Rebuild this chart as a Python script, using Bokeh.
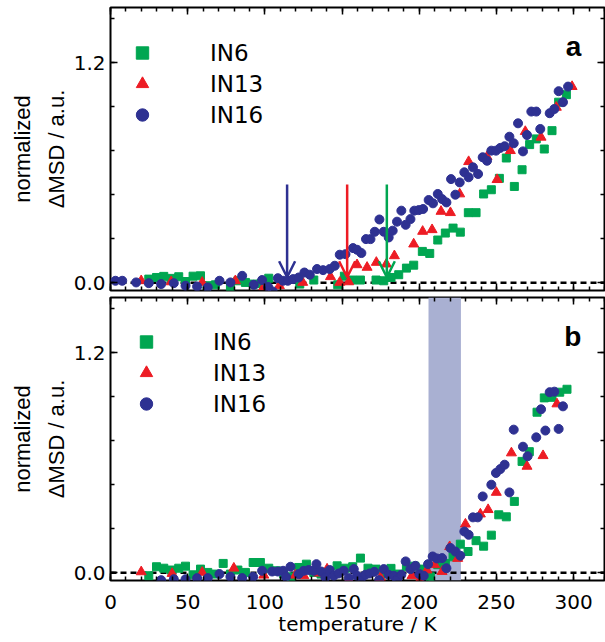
from bokeh.plotting import figure
from bokeh.models import (Range1d, LinearAxis, SingleIntervalTicker, Span, BoxAnnotation,
                          Arrow, OpenHead, Legend, LegendItem, Label, PrintfTickFormatter,
                          CustomJSTickFormatter)
from bokeh.layouts import column
from bokeh.embed import file_html
from bokeh.resources import INLINE

# ---------------- data (temperature / K, normalized dMSD) ----------------
# panel a
a_in6_T = [24.8, 29.8, 34.5, 39.3, 44.2, 48.6, 53.5, 58.3, 62.6, 68.0, 77.7, 82.5, 87.4, 92.8, 97.6,
           102.5, 122.6, 131.7, 147.2, 151.5, 156.9, 161.9, 172.0, 177.0, 181.7, 186.7, 191.7, 196.4,
           202.0, 206.8, 212.0, 216.9, 221.9, 226.6, 231.8, 236.8, 241.7, 246.7, 251.9, 256.4, 261.6,
           266.6, 271.5, 275.8, 281.0, 286.0, 290.3, 295.3]
a_in6_y = [0.020, 0.029, 0.035, 0.024, 0.033, 0.007, 0.036, 0.038, -0.016, -0.011, -0.020, 0.011,
           0.002, -0.007, -0.004, 0.025, -0.007, 0.015, -0.011, 0.036, 0.015, 0.015, 0.015, 0.011,
           0.029, 0.044, 0.080, 0.096, 0.171, 0.160, 0.233, 0.271, 0.298, 0.276, 0.382, 0.382, 0.484,
           0.507, 0.569, 0.680, 0.525, 0.616, 0.753, 0.784, 0.729, 0.829, 0.984, 1.025]

a_in13_T = [19.9, 39.3, 59.4, 80.9, 99.3, 109.4, 124.5, 142.5, 148.5, 154.3, 159.7, 166.2, 172.2,
            178.7, 183.9, 196.4, 202.2, 208.3, 214.1, 220.2, 226.2, 232.0, 243.9, 250.4, 259.0,
            268.7, 278.9, 288.8, 299.0]
a_in13_y = [0.011, 0.005, 0.002, 0.011, -0.022, -0.016, 0.002, 0.033, 0.002, 0.005, 0.098, 0.084,
            0.111, 0.102, 0.147, 0.211, 0.280, 0.289, 0.389, 0.382, 0.484, 0.660, 0.687, 0.562,
            0.720, 0.824, 0.793, 0.956, 1.069]

a_in16_T = [3.2, 7.6, 16.6, 24.8, 32.8, 41.0, 48.6, 56.1, 63.0, 70.6, 77.7, 85.3, 92.8, 98.2, 102.1,
            105.1, 108.4, 111.8, 114.8, 118.3, 121.9, 125.6, 129.1, 133.8, 137.7, 142.0, 145.3,
            148.5, 152.2, 157.1, 159.7, 162.5, 165.5, 168.4, 171.2, 174.2, 177.0, 180.2, 182.8,
            185.6, 188.4, 191.2, 194.3, 196.8, 199.7, 202.5, 206.1, 208.9, 212.0, 214.8, 217.6,
            220.6, 223.4, 226.2, 229.2, 232.0, 234.8, 238.1, 241.1, 243.9, 246.7, 249.7, 252.5,
            255.3, 258.4, 261.2, 264.0, 267.2, 269.8, 272.6, 275.8, 278.4, 284.5, 287.5, 290.3,
            293.1, 296.4]
a_in16_y = [0.011, 0.011, 0.002, -0.002, -0.007, -0.002, -0.016, -0.020, -0.025, 0.011, 0.002, 0.038,
            -0.011, 0.015, -0.022, -0.047, 0.025, 0.011, 0.011, 0.020, 0.029, 0.056, 0.044, 0.075,
            0.069, 0.075, 0.093, 0.153, 0.156, 0.189, 0.180, 0.162, 0.238, 0.238, 0.278, 0.345,
            0.278, 0.247, 0.284, 0.333, 0.393, 0.316, 0.347, 0.393, 0.396, 0.402, 0.451, 0.433,
            0.484, 0.456, 0.438, 0.565, 0.480, 0.547, 0.602, 0.575, 0.629, 0.593, 0.684, 0.665,
            0.720, 0.720, 0.735, 0.744, 0.796, 0.760, 0.869, 0.716, 0.805, 0.933, 0.933, 0.838,
            0.924, 0.947, 1.044, 0.984, 1.069]

# onset arrows in panel a (IN16, IN13, IN6)
arrow_T = [114.4, 153.3, 179.0]
arrow_top = 0.535
arrow_tip = 0.03

# panel b
b_in6_T = [24.8, 29.8, 34.5, 39.3, 44.2, 48.6, 53.5, 58.3, 63.0, 68.0, 73.0, 77.7, 82.5, 87.4, 92.4,
           97.1, 102.5, 107.5, 112.2, 117.0, 121.9, 126.9, 131.7, 136.4, 146.8, 152.2, 156.9, 161.9,
           166.8, 172.0, 177.0, 181.7, 186.7, 191.7, 197.1, 201.8, 207.2, 212.0, 216.9, 221.9,
           226.6, 231.6, 236.8, 241.7, 246.7, 251.5, 256.4, 261.6, 266.6, 271.3, 276.3, 281.0,
           286.0, 291.0, 295.7]
b_in6_y = [-0.016, 0.033, 0.025, 0.015, 0.025, 0.036, -0.011, 0.020, 0.002, -0.007, 0.051, -0.007,
           0.015, 0.002, 0.056, 0.056, 0.025, 0.011, -0.007, -0.022, 0.029, 0.047, 0.002, -0.007,
           0.038, 0.025, 0.033, 0.080, 0.025, 0.020, -0.007, 0.024, -0.007, 0.033, 0.036, 0.020,
           -0.022, 0.044, 0.051, 0.087, 0.156, 0.116, 0.175, 0.145, 0.205, 0.316, 0.305, 0.389,
           0.607, 0.660, 0.875, 0.953, 0.956, 0.984, 1.000]

b_in13_T = [19.9, 39.9, 59.4, 79.9, 99.3, 119.8, 125.2, 134.9, 140.3, 154.3, 174.8, 195.3, 200.3,
            205.0, 210.0, 214.8, 219.7, 224.9, 229.9, 239.6, 244.6, 249.9, 259.7, 269.8, 280.2, 289.2]
b_in13_y = [0.005, -0.004, 0.002, 0.025, -0.013, -0.013, -0.016, -0.002, 0.020, -0.040, -0.025,
            -0.016, -0.040, 0.015, 0.044, 0.007, 0.142, 0.078, 0.265, 0.320, 0.344, 0.438, 0.653,
            0.580, 0.638, 0.920]

b_in16_T = [32.8, 41.0, 48.6, 56.1, 63.0, 70.6, 77.7, 85.3, 92.4, 98.2, 104.7, 108.4, 111.8, 113.7,
            116.6, 121.9, 125.2, 128.4, 131.7, 133.4, 136.4, 139.2, 142.0, 144.6, 147.8, 151.1,
            154.3, 157.6, 159.7, 162.5, 165.1, 167.9, 170.9, 174.0, 177.0, 180.2, 183.5, 185.6,
            188.4, 191.2, 194.3, 197.5, 200.1, 202.9, 205.7, 208.7, 211.5, 214.8, 217.6, 220.2,
            223.4, 226.6, 229.2, 232.0, 234.8, 237.9, 241.1, 246.7, 249.7, 252.5, 255.3, 258.4,
            261.2, 267.2, 270.2, 275.8, 278.9, 281.7, 284.5, 287.5, 290.3, 293.1]
b_in16_y = [-0.040, -0.035, -0.035, -0.029, -0.029, -0.007, -0.022, -0.029, -0.022, 0.011, 0.007,
            0.007, 0.011, -0.022, 0.033, -0.007, 0.011, 0.015, 0.011, 0.047, 0.007, -0.025, 0.015,
            -0.016, -0.004, 0.011, -0.029, 0.020, -0.016, -0.029, -0.011, -0.004, 0.005, -0.040,
            0.020, -0.011, -0.016, -0.040, -0.011, 0.062, 0.020, 0.038, -0.007, -0.016, 0.047,
            0.089, 0.078, 0.080, 0.025, 0.135, 0.116, 0.093, 0.225, 0.207, 0.302, 0.302, 0.416,
            0.480, 0.544, 0.565, 0.589, 0.438, 0.780, 0.687, 0.635, 0.738, 0.891, 0.775, 0.984,
            0.987, 0.784, 0.907]

# shaded temperature band in panel b
band_T = [206.0, 227.0]

series_names = ["IN6", "IN13", "IN16"]
x_limits = [0, 320]
y_limits = [-0.042, 1.5]
x_label = "temperature / K"
y_label = "normalized\n\u0394MSD / a.u."

# ---------------- styling ----------------
GREEN = "#00a651"
RED = "#ed1c24"
BLUE = "#2e3192"
SHADE = "#a9b0d2"
FONT = "DejaVu Sans"
YFONT = "Liberation Sans"

x_range = Range1d(*x_limits)


def style_axis(ax, kind, labels):
    if kind == "x":
        ax.ticker = SingleIntervalTicker(interval=50, num_minor_ticks=5)
    else:
        ax.ticker = SingleIntervalTicker(interval=1.2, num_minor_ticks=5)
    ax.axis_line_color = None
    ax.major_tick_in = 7
    ax.major_tick_out = 0
    ax.minor_tick_in = 4
    ax.minor_tick_out = 0
    ax.major_tick_line_color = "black"
    ax.minor_tick_line_color = "black"
    ax.major_tick_line_width = 1.5
    ax.minor_tick_line_width = 1.5
    if labels:
        if kind == "y":
            ax.formatter = PrintfTickFormatter(format="%.1f")
        ax.major_label_text_font = FONT
        ax.major_label_text_font_size = "20px"
        ax.major_label_text_color = "black"
        ax.major_label_standoff = 14 if kind == "x" else 5
    else:
        ax.formatter = CustomJSTickFormatter(code="return ''")
        ax.major_label_text_font_size = "1px"
        ax.major_label_standoff = 0


def make_panel(height, top, bottom, xlabels, data, letter, legend_loc, legend_standoff):
    p = figure(width=605, height=height, x_range=x_range, y_range=Range1d(*y_limits),
               output_backend="svg", toolbar_location=None,
               min_border_left=110, min_border_right=1, min_border_top=top,
               min_border_bottom=bottom)
    p.xgrid.visible = False
    p.ygrid.visible = False
    p.outline_line_color = "black"
    p.outline_line_width = 2
    p.background_fill_color = "white"
    p.border_fill_color = "white"

    bottom_ax = p.xaxis[0]
    left_ax = p.yaxis[0]
    style_axis(bottom_ax, "x", xlabels)
    style_axis(left_ax, "y", True)
    top_ax = LinearAxis()
    style_axis(top_ax, "x", False)
    right_ax = LinearAxis()
    style_axis(right_ax, "y", False)
    p.add_layout(top_ax, "above")
    p.add_layout(right_ax, "right")

    left_ax.axis_label = y_label
    left_ax.axis_label_text_font = YFONT
    left_ax.axis_label_text_font_size = "22px"
    left_ax.axis_label_text_color = "black"
    left_ax.axis_label_text_font_style = "normal"
    left_ax.axis_label_text_line_height = 1.35
    left_ax.axis_label_standoff = 2

    if xlabels:
        bottom_ax.axis_label = x_label
        bottom_ax.axis_label_text_font = FONT
        bottom_ax.axis_label_text_font_size = "20px"
        bottom_ax.axis_label_text_color = "black"
        bottom_ax.axis_label_text_font_style = "normal"
        bottom_ax.axis_label_standoff = 0

    (t6, y6), (t13, y13), (t16, y16) = data
    r6 = p.scatter(t6, y6, marker="square", size=8, color=GREEN)
    r13 = p.scatter(t13, y13, marker="triangle", size=10, color=RED)
    r16 = p.scatter(t16, y16, marker="circle", size=9, color=BLUE)

    legend = Legend(items=[LegendItem(label=series_names[0], renderers=[r6]),
                           LegendItem(label=series_names[1], renderers=[r13]),
                           LegendItem(label=series_names[2], renderers=[r16])],
                    location=legend_loc, orientation="vertical", padding=0, margin=0,
                    spacing=0, glyph_width=34, glyph_height=31, label_standoff=legend_standoff,
                    label_text_font=FONT, label_text_font_size="23px",
                    label_text_color="black",
                    background_fill_alpha=0, border_line_color=None)
    p.add_layout(legend)

    p.add_layout(Label(x=305, y=1.285, text=letter, text_font="Liberation Sans",
                       text_font_style="bold", text_font_size="28px", text_align="right",
                       text_color="black", text_baseline="alphabetic"))
    return p


p1 = make_panel(295, 7, 5, False,
                [(a_in6_T, a_in6_y), (a_in13_T, a_in13_y), (a_in16_T, a_in16_y)],
                "a", (15, 160), 51)
p1.add_layout(Span(location=0, dimension="width", line_color="black", line_width=2.5,
                   line_dash="6 4", level="underlay"))
for T, col in zip(arrow_T, [BLUE, RED, GREEN]):
    p1.add_layout(Arrow(end=OpenHead(size=16, line_color=col, line_width=2.5),
                        x_start=T, y_start=arrow_top, x_end=T, y_end=arrow_tip,
                        line_color=col, line_width=2.5))

p2 = make_panel(347, 2, 62, True,
                [(b_in6_T, b_in6_y), (b_in13_T, b_in13_y), (b_in16_T, b_in16_y)],
                "b", (19, 161), 50)
p2.add_layout(BoxAnnotation(left=band_T[0], right=band_T[1], fill_color=SHADE, fill_alpha=1.0,
                            line_color=None, level="underlay"))
p2.add_layout(Span(location=0, dimension="width", line_color="black", line_width=2.5,
                   line_dash="6 4", level="underlay"))

layout = column(p1, p2, spacing=0)
open("out.html", "w").write(file_html(layout, INLINE))
